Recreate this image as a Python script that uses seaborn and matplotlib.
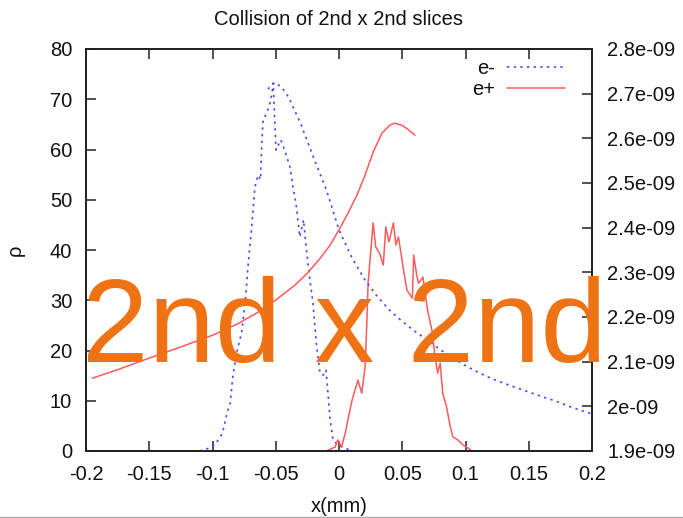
import numpy as np
import pandas as pd
import matplotlib
matplotlib.use("Agg")
import matplotlib.pyplot as plt
import seaborn as sns
from matplotlib.lines import Line2D

# ---------------- data ----------------
title = "Collision of 2nd x 2nd slices"
overlay_text = "2nd x 2nd"
x_label = "x(mm)"
y_label = "ρ"

x_ticks = [-0.2, -0.15, -0.1, -0.05, 0.0, 0.05, 0.1, 0.15, 0.2]
x_tick_labels = ["-0.2", "-0.15", "-0.1", "-0.05", "0", "0.05", "0.1", "0.15", "0.2"]
y_ticks = [0, 10, 20, 30, 40, 50, 60, 70, 80]
y2_ticks = [1.9e-9, 2.0e-9, 2.1e-9, 2.2e-9, 2.3e-9, 2.4e-9, 2.5e-9, 2.6e-9, 2.7e-9, 2.8e-9]
y2_tick_labels = ["1.9e-09", "2e-09", "2.1e-09", "2.2e-09", "2.3e-09", "2.4e-09",
                  "2.5e-09", "2.6e-09", "2.7e-09", "2.8e-09"]

# e- density (left axis, noisy)
x_em = [-0.110, -0.100, -0.096, -0.092, -0.0885, -0.086, -0.084, -0.081, -0.077, -0.074,
        -0.072, -0.069, -0.0665, -0.064, -0.062, -0.061, -0.060, -0.057, -0.0545, -0.053,
        -0.052, -0.0506, -0.0498, -0.046, -0.043, -0.0387, -0.0364, -0.034, -0.031, -0.028,
        -0.026, -0.023, -0.0206, -0.018, -0.015, -0.0125, -0.0103, -0.0087, -0.007, -0.0047,
        -0.001, 0.005, 0.012]
rho_em = [0, 0.8, 2.0, 3.6, 7.6, 9.5, 14.7, 19.5, 23.5, 30.0,
          36.6, 44.6, 52.5, 54.9, 54.0, 61.3, 65.9, 67.3, 69.3, 71.2,
          73.2, 64.5, 59.9, 61.9, 59.9, 56.5, 52.5, 49.3, 42.6, 46.0,
          40.6, 34.0, 29.5, 21.5, 15.5, 15.1, 16.1, 11.5, 6.2, 2.2,
          1.2, 0.5, 0.0]

# e+ density (left axis, noisy)
x_ep = [-0.010, -0.003, -0.001, 0.002, 0.005, 0.007, 0.0103, 0.0126, 0.015, 0.018,
        0.0206, 0.022, 0.023, 0.025, 0.027, 0.029, 0.032, 0.035, 0.037, 0.0395,
        0.043, 0.045, 0.047, 0.0498, 0.0506, 0.0537, 0.058, 0.059, 0.0617, 0.063,
        0.0664, 0.070, 0.0735, 0.076, 0.078, 0.080, 0.082, 0.085, 0.088, 0.090,
        0.094, 0.098, 0.102, 0.105, 0.110]
rho_ep = [0, 0.8, 2.2, 0.8, 3.6, 6.2, 10.1, 12.1, 14.1, 11.5,
          16.7, 25.5, 33.4, 39.4, 45.4, 40.6, 39.4, 37.0, 44.6, 41.6,
          45.4, 41.0, 42.6, 38.0, 36.6, 32.0, 30.4, 39.0, 34.6, 33.4,
          34.6, 28.0, 24.0, 18.7, 15.5, 17.5, 11.5, 8.8, 4.8, 2.8,
          2.2, 1.2, 0.6, 0.0, 0.0]

# e- smooth curve (right axis)
x_em_s = [-0.056, -0.053, -0.050, -0.045, -0.040, -0.030, -0.020, -0.010, 0.000, 0.010,
          0.020, 0.030, 0.040, 0.050, 0.060, 0.070, 0.080, 0.090, 0.100, 0.110,
          0.120, 0.130, 0.140, 0.150, 0.160, 0.170, 0.180, 0.190, 0.200]
y2_em_s = [2.710e-9, 2.721e-9, 2.725e-9, 2.713e-9, 2.693e-9, 2.631e-9, 2.556e-9, 2.485e-9,
           2.395e-9, 2.334e-9, 2.285e-9, 2.247e-9, 2.215e-9, 2.190e-9, 2.168e-9, 2.148e-9,
           2.127e-9, 2.108e-9, 2.091e-9, 2.076e-9, 2.063e-9, 2.052e-9, 2.042e-9, 2.032e-9,
           2.022e-9, 2.013e-9, 2.002e-9, 1.992e-9, 1.983e-9]

# e+ smooth curve (right axis)
x_ep_s = [-0.195, -0.175, -0.150, -0.125, -0.100, -0.080, -0.065, -0.050, -0.035, -0.025,
          -0.015, -0.007, 0.000, 0.007, 0.014, 0.020, 0.027, 0.034, 0.040, 0.044,
          0.050, 0.055, 0.060]
y2_ep_s = [2.063e-9, 2.082e-9, 2.108e-9, 2.133e-9, 2.159e-9, 2.185e-9, 2.209e-9, 2.238e-9,
           2.271e-9, 2.298e-9, 2.331e-9, 2.361e-9, 2.395e-9, 2.432e-9, 2.472e-9, 2.513e-9,
           2.569e-9, 2.612e-9, 2.629e-9, 2.634e-9, 2.629e-9, 2.619e-9, 2.607e-9]

# ---------------- style ----------------
sns.set_style("ticks")
plt.rcParams["font.family"] = ["Liberation Sans", "DejaVu Sans"]
plt.rcParams["font.size"] = 14.5

blue = "#4646ff"
red = "#ff5a5a"
orange = "#ef7314"
ink = "#111111"

W, H = 683, 518
fig = plt.figure(figsize=(W / 100, H / 100), dpi=100)
L, R, T, B = 86, 592, 49, 451
ax = fig.add_axes([L / W, 1 - B / H, (R - L) / W, (B - T) / H])
ax2 = ax.twinx()

df_em = pd.DataFrame({"x": x_em, "rho": rho_em})
df_ep = pd.DataFrame({"x": x_ep, "rho": rho_ep})
df_em_s = pd.DataFrame({"x": x_em_s, "v": y2_em_s})
df_ep_s = pd.DataFrame({"x": x_ep_s, "v": y2_ep_s})

dash = (1.4, 2.6)
sns.lineplot(data=df_em, x="x", y="rho", ax=ax, color=blue, lw=1.2,
             estimator=None, sort=False, dashes=False, label="e-")
ax.lines[-1].set_dashes(dash)
sns.lineplot(data=df_ep, x="x", y="rho", ax=ax, color=red, lw=1.1,
             estimator=None, sort=False, label="e+")
sns.lineplot(data=df_em_s, x="x", y="v", ax=ax2, color=blue, lw=1.2,
             estimator=None, sort=False)
ax2.lines[-1].set_dashes(dash)
sns.lineplot(data=df_ep_s, x="x", y="v", ax=ax2, color=red, lw=1.1,
             estimator=None, sort=False)

ax.set_xlim(-0.2, 0.2)
ax.set_ylim(0, 80)
ax2.set_ylim(1.9e-9, 2.8e-9)
ax.set_xticks(x_ticks)
ax.set_xticklabels(x_tick_labels)
ax.set_yticks(y_ticks)
ax.set_yticklabels([str(v) for v in y_ticks])
ax2.set_yticks(y2_ticks)
ax2.set_yticklabels(y2_tick_labels)
ax.set_xlabel("")
ax.set_ylabel("")
ax2.set_ylabel("")

for a in (ax, ax2):
    for s in a.spines.values():
        s.set_visible(True)
        s.set_color("#222222")
        s.set_linewidth(1.3)
ax.tick_params(axis="x", direction="in", length=7.5, width=1.2, color="#333333",
               top=True, bottom=True, labeltop=False, pad=10, labelcolor=ink)
ax.tick_params(axis="y", direction="in", length=7.5, width=1.2, color="#333333",
               left=True, right=False, pad=10, labelcolor=ink)
ax2.tick_params(axis="y", direction="in", length=7.5, width=1.2, color="#333333",
                right=True, left=False, pad=11, labelcolor=ink)

leg = ax.legend(loc="upper right", bbox_to_anchor=(0.947, 0.975), frameon=False,
                markerfirst=False, handlelength=2.9, handletextpad=0.6,
                labelspacing=0.12, borderpad=0, borderaxespad=0)
for h in leg.get_lines():
    if h.get_color() == blue:
        h.set_dashes(dash)
for t in leg.get_texts():
    t.set_color(ink)

fig.text(339 / W, 1 - 25 / H, title, ha="center", va="baseline", color=ink)
fig.text(339 / W, 1 - 506 / H, x_label, ha="center", va="center", color=ink)
fig.text(15 / W, 1 - 250 / H, y_label, ha="center", va="center", rotation=90, color=ink)

fig.text(344 / W, 1 - 362 / H, overlay_text, ha="center", va="baseline",
         fontsize=86, color=orange, zorder=10)

fig.add_artist(Line2D([0, 1], [1 - 516.5 / H, 1 - 516.5 / H], transform=fig.transFigure,
                      color="#b0b0b0", lw=1.0))

fig.savefig("out.png", dpi=100)
